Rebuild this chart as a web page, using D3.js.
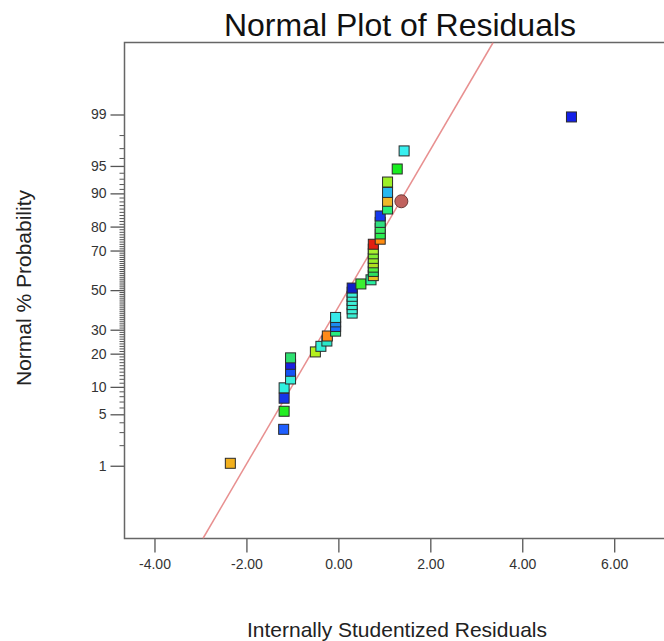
<!DOCTYPE html>
<html>
<head>
<meta charset="utf-8">
<script src="https://cdn.jsdelivr.net/npm/d3@7"></script>
<style>
  body { margin: 0; background: #fff; }
  text { font-family: "Liberation Sans", Arial, sans-serif; }
</style>
</head>
<body>
<div id="chart"></div>
<script>
  // residuals, sorted, with their normal % probability
  var residuals = [-2.35, -1.19, -1.18, -1.18, -1.18, -1.04, -1.04, -1.04, -1.04, -0.50,
    -0.38, -0.25, -0.24, -0.06, -0.06, -0.06, -0.06, 0.30, 0.30, 0.30,
    0.30, 0.30, 0.30, 0.30, 0.49, 0.71, 0.76, 0.76, 0.76, 0.76,
    0.76, 0.76, 0.76, 0.76, 0.91, 0.91, 0.91, 0.91, 0.91, 1.07,
    1.07, 1.07, 1.07, 1.28, 1.43, 5.07];
  var probability = [1.09, 3.26, 5.43, 7.61, 9.78, 11.96, 14.13, 16.30, 18.48, 20.65,
    22.83, 25.00, 27.17, 29.35, 31.52, 33.70, 35.87, 38.04, 40.22, 42.39,
    44.57, 46.74, 48.91, 51.09, 53.26, 55.43, 57.61, 59.78, 61.96, 64.13,
    66.30, 68.48, 70.65, 72.83, 75.00, 77.17, 79.35, 81.52, 83.70, 85.87,
    88.04, 90.22, 92.39, 94.57, 96.74, 98.91];
  var pointColors = ['#f2b01e', '#1f5fff', '#22ee22', '#1535e8', '#2ef0e0', '#3af2dc', '#1452f5', '#1a1fe0', '#2ee070', '#b4f01e',
    '#35f0d8', '#2ae8c8', '#ff8a1a', '#28ee80', '#1670ff', '#1a8cf0', '#38e8e8', '#3cf0d4', '#3cf0d8', '#3cf0d4',
    '#3cf0d8', '#3cf0d4', '#3cf0d8', '#1020c8', '#3cee30', '#2aeea0', '#e8c020', '#2ee060', '#50f040', '#b0e020',
    '#98ee28', '#80ee30', '#a8f030', '#e02010', '#ff8c10', '#2aee50', '#3cee64', '#30e080', '#1438ee', '#28ee78',
    '#f0b828', '#28b8f0', '#9cf028', '#18ee20', '#38f0f0', '#1420e8'];

  // highlighted run, drawn as a circle
  var circleResidual = 1.37;
  var circleProbability = 88.04;

  // fitted normal line: residual at 1% and 99%
  var fitPct = [1, 99];
  var fitRes = [-2.02, 2.45];

  var xTicks = [-4, -2, 0, 2, 4, 6];
  var yMajor = [1, 5, 10, 20, 30, 50, 70, 80, 90, 95, 99];
  var yMinor = d3.range(1, 100).filter(function(p) { return yMajor.indexOf(p) === -1; });

  var width = 664;
  var height = 641;

  // plot frame
  var plotLeft = 124.5;
  var plotTop = 42.5;
  var plotRight = 668;
  var plotBottom = 538.5;

  // inverse normal cdf (Acklam)
  function probit(p) {
    var a = [-39.69683028665376, 220.9460984245205, -275.9285104469687, 138.3577518672690, -30.66479806614716, 2.506628277459239];
    var b = [-54.47609879822406, 161.5858368580409, -155.6989798598866, 66.80131188771972, -13.28068155288572];
    var c = [-0.007784894002430293, -0.3223964580411365, -2.400758277161838, -2.549732539343734, 4.374664141464968, 2.938163982698783];
    var d = [0.007784695709041462, 0.3224671290700398, 2.445134137142996, 3.754408661907416];
    var q, r;
    if (p < 0.02425) {
      q = Math.sqrt(-2 * Math.log(p));
      return (((((c[0] * q + c[1]) * q + c[2]) * q + c[3]) * q + c[4]) * q + c[5]) /
        ((((d[0] * q + d[1]) * q + d[2]) * q + d[3]) * q + 1);
    }
    if (p > 1 - 0.02425) {
      q = Math.sqrt(-2 * Math.log(1 - p));
      return -(((((c[0] * q + c[1]) * q + c[2]) * q + c[3]) * q + c[4]) * q + c[5]) /
        ((((d[0] * q + d[1]) * q + d[2]) * q + d[3]) * q + 1);
    }
    q = p - 0.5;
    r = q * q;
    return (((((a[0] * r + a[1]) * r + a[2]) * r + a[3]) * r + a[4]) * r + a[5]) * q /
      (((((b[0] * r + b[1]) * r + b[2]) * r + b[3]) * r + b[4]) * r + 1);
  }

  var x = d3.scaleLinear().domain([-4.652, 7.17]).range([plotLeft, plotRight]);
  var y = d3.scaleLinear().domain([-3.29, 3.28]).range([plotBottom, plotTop]);
  function yPct(p) { return y(probit(p / 100)); }

  var svg = d3.select('#chart')
    .append('svg')
    .attr('width', width)
    .attr('height', height);

  // title
  svg.append('text')
    .attr('x', 400)
    .attr('y', 36)
    .attr('text-anchor', 'middle')
    .attr('font-size', 32)
    .attr('fill', '#111')
    .text('Normal Plot of Residuals');

  // x axis
  var xAxis = svg.append('g')
    .attr('transform', 'translate(0,' + plotBottom + ')')
    .call(d3.axisBottom(x)
      .tickValues(xTicks)
      .tickSize(14)
      .tickSizeOuter(0)
      .tickPadding(7)
      .tickFormat(function(d) { return d.toFixed(2); }));
  xAxis.select('.domain').remove();
  xAxis.selectAll('line').attr('stroke', '#555').attr('stroke-width', 1.3);
  xAxis.selectAll('text').attr('font-size', 14).attr('fill', '#333')
    .style('font-family', '"Liberation Sans", Arial, sans-serif');

  // y axis, minor ticks every percent
  var yMinorAxis = svg.append('g')
    .attr('transform', 'translate(' + plotLeft + ',0)')
    .call(d3.axisLeft(y)
      .tickValues(yMinor.map(function(p) { return probit(p / 100); }))
      .tickSize(5)
      .tickSizeOuter(0)
      .tickFormat(''));
  yMinorAxis.select('.domain').remove();
  yMinorAxis.selectAll('line').attr('stroke', '#555').attr('stroke-width', 1);

  var yAxis = svg.append('g')
    .attr('transform', 'translate(' + plotLeft + ',0)')
    .call(d3.axisLeft(y)
      .tickValues(yMajor.map(function(p) { return probit(p / 100); }))
      .tickSize(14)
      .tickSizeOuter(0)
      .tickPadding(4)
      .tickFormat(function(d, i) { return yMajor[i]; }));
  yAxis.select('.domain').remove();
  yAxis.selectAll('line').attr('stroke', '#555').attr('stroke-width', 1.3);
  yAxis.selectAll('text').attr('font-size', 14).attr('fill', '#333')
    .style('font-family', '"Liberation Sans", Arial, sans-serif');

  // frame
  svg.append('rect')
    .attr('x', plotLeft)
    .attr('y', plotTop)
    .attr('width', plotRight - plotLeft)
    .attr('height', plotBottom - plotTop)
    .attr('fill', 'none')
    .attr('stroke', '#666')
    .attr('stroke-width', 1.5);

  // axis titles
  svg.append('text')
    .attr('x', 397)
    .attr('y', 637)
    .attr('text-anchor', 'middle')
    .attr('font-size', 21)
    .attr('fill', '#222')
    .text('Internally Studentized Residuals');

  svg.append('text')
    .attr('transform', 'translate(31,288) rotate(-90)')
    .attr('text-anchor', 'middle')
    .attr('font-size', 21)
    .attr('fill', '#222')
    .text('Normal % Probability');

  // clip to plot area
  svg.append('clipPath')
    .attr('id', 'plot-clip')
    .append('rect')
    .attr('x', plotLeft)
    .attr('y', plotTop)
    .attr('width', plotRight - plotLeft)
    .attr('height', plotBottom - plotTop);

  var plot = svg.append('g').attr('clip-path', 'url(#plot-clip)');

  // fitted line, extended to the frame
  var z0 = probit(fitPct[0] / 100);
  var z1 = probit(fitPct[1] / 100);
  var slope = (fitRes[1] - fitRes[0]) / (z1 - z0);
  var zEnds = y.domain();
  plot.append('line')
    .attr('x1', x(fitRes[0] + (zEnds[0] - z0) * slope))
    .attr('y1', y(zEnds[0]))
    .attr('x2', x(fitRes[0] + (zEnds[1] - z0) * slope))
    .attr('y2', y(zEnds[1]))
    .attr('stroke', '#e89090')
    .attr('stroke-width', 1.5);

  // residual points
  var size = 10;
  plot.selectAll('rect.pt')
    .data(residuals)
    .enter()
    .append('rect')
    .attr('class', 'pt')
    .attr('x', function(d) { return x(d) - size / 2; })
    .attr('y', function(d, i) { return yPct(probability[i]) - size / 2; })
    .attr('width', size)
    .attr('height', size)
    .attr('fill', function(d, i) { return pointColors[i]; })
    .attr('stroke', '#2a2a2a')
    .attr('stroke-width', 1);

  plot.append('circle')
    .attr('cx', x(circleResidual))
    .attr('cy', yPct(circleProbability))
    .attr('r', 6.5)
    .attr('fill', '#c0625e')
    .attr('stroke', '#6a3a38')
    .attr('stroke-width', 1);
</script>
</body>
</html>
